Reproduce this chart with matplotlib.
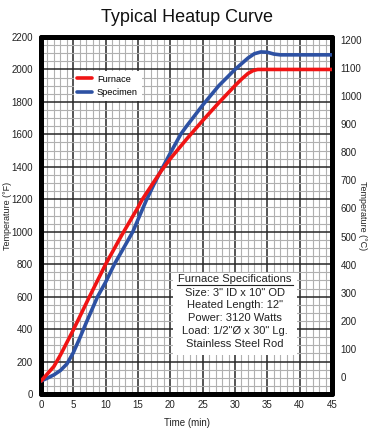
import matplotlib
matplotlib.use("Agg")
import matplotlib.pyplot as plt
from matplotlib.patches import Rectangle
from matplotlib.lines import Line2D
from matplotlib.ticker import MultipleLocator

plt.rcParams['font.family'] = ['Liberation Sans', 'DejaVu Sans']

# ---- data ----
furnace_t = [0, 1, 2, 3, 5, 7.5, 10, 12.5, 15, 15.6, 17.5, 18.6, 20, 22.5, 25, 27.5, 30, 31, 32, 32.8, 33.5, 35, 40, 45]
furnace_f = [80, 125, 170, 240, 395, 600, 800, 980, 1150, 1195, 1310, 1375, 1450, 1570, 1685, 1795, 1900, 1940, 1975, 1993, 2000, 2000, 2000, 2000]

specimen_t = [0, 1, 2, 3, 4, 5, 6, 7, 8.75, 10, 11.35, 12.5, 14.2, 15, 16.3, 17.5, 18.6, 20, 21.6, 22.5, 25, 27.5, 30, 31, 32, 33, 34, 35, 36, 37, 40, 45]
specimen_f = [80, 98, 118, 145, 185, 255, 345, 440, 600, 690, 800, 880, 1000, 1075, 1195, 1295, 1380, 1485, 1600, 1650, 1780, 1900, 2000, 2035, 2070, 2097, 2108, 2106, 2095, 2090, 2090, 2090]

title = "Typical Heatup Curve"
x_label = "Time (min)"
y_label_left = "Temperature (\u00b0F)"
y_label_right = "Temperature (\u00b0C)"
legend_labels = ["Furnace", "Specimen"]
spec_lines = ["Furnace Specifications",
              "Size: 3\" ID x 10\" OD",
              "Heated Length: 12\"",
              "Power: 3120 Watts",
              "Load: 1/2\"\u00d8 x 30\" Lg.",
              "Stainless Steel Rod"]

W, H = 371, 429
fig = plt.figure(figsize=(W / 100, H / 100), dpi=100)
ax = fig.add_axes([41 / W, 1 - 394 / H, 291 / W, 357 / H])

ax.set_xlim(0, 45)
ax.set_ylim(0, 2200)
ax.xaxis.set_major_locator(MultipleLocator(5))
ax.xaxis.set_minor_locator(MultipleLocator(1))
ax.yaxis.set_major_locator(MultipleLocator(200))
ax.yaxis.set_minor_locator(MultipleLocator(50))
ax.grid(which='minor', color='#b0b0b0', linewidth=0.8)
ax.grid(which='major', color='#262626', linewidth=1.1)
ax.set_axisbelow(True)
ax.tick_params(which='both', length=0)
ax.tick_params(axis='x', labelsize=7, pad=4, colors='#222222')
ax.tick_params(axis='y', labelsize=7, pad=6, colors='#222222')
for s in ax.spines.values():
    s.set_linewidth(3.6)
    s.set_color('black')
    s.set_capstyle('round')
    s.set_joinstyle('round')

ax.plot(furnace_t, furnace_f, color='#f01414', lw=2.6, solid_joinstyle='round',
        solid_capstyle='round', label=legend_labels[0], zorder=4)
ax.plot(specimen_t, specimen_f, color='#2d51a3', lw=2.6, solid_joinstyle='round',
        solid_capstyle='round', label=legend_labels[1], zorder=3)

ax.set_xlabel(x_label, fontsize=7, color='#222222')
ax.xaxis.set_label_coords(0.5, -(418 - 394) / 357)
ax.set_ylabel(y_label_left, fontsize=6.5, color='#222222', va='center')
ax.yaxis.set_label_coords((8 - 41) / 291, 0.5)

leg = ax.legend(loc='upper left', bbox_to_anchor=(0.112, 0.905), fontsize=6.7,
                frameon=True, fancybox=False, handlelength=1.6, handletextpad=0.5,
                labelspacing=0.45, borderpad=0.4, borderaxespad=0)
leg.get_frame().set_edgecolor('none')
leg.get_frame().set_facecolor('white')
leg.get_frame().set_alpha(1)
for ln in leg.get_lines():
    ln.set_linewidth(2.6)

ax2 = ax.twinx()
ax2.set_ylim(-60, 1210)
ax2.yaxis.set_major_locator(MultipleLocator(100))
ax2.tick_params(length=0, labelsize=7, pad=6, colors='#222222')
for s in ax2.spines.values():
    s.set_visible(False)
ax2.set_ylabel(y_label_right, fontsize=6.5, rotation=270, color='#222222', va='center')
ax2.yaxis.set_label_coords((362 - 41) / 291, 0.5)

# specification box
ax.add_patch(Rectangle((0.4536, 0.109), 0.4264, 0.230, transform=ax.transAxes,
                       facecolor='white', edgecolor='none', zorder=5))
ys = [0.323, 0.284, 0.248, 0.212, 0.176, 0.141]
for txt, yy in zip(spec_lines, ys):
    ax.text(0.667, yy, txt, transform=ax.transAxes, ha='center', va='center',
            fontsize=8.0, color='#222222', zorder=6)
ax.add_line(Line2D([0.468, 0.866], [0.304, 0.304], transform=ax.transAxes,
                   color='#222222', lw=0.8, zorder=6))

fig.text(186.5 / W, 1 - 18 / H, title, ha='center', va='center', fontsize=13, color='#111111')

fig.savefig("out.png", dpi=100)
